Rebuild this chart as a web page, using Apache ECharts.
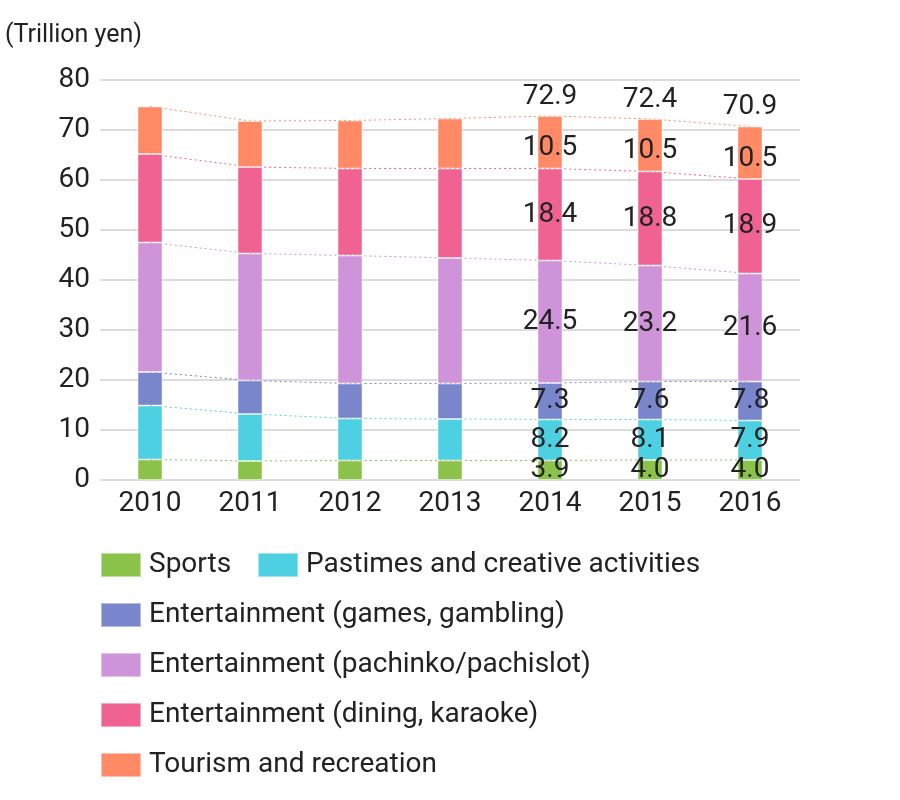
<!DOCTYPE html>
<html>
<head>
<meta charset="utf-8">
<script src="https://cdn.jsdelivr.net/npm/echarts@6/dist/echarts.min.js"></script>
<style>html,body{margin:0;padding:0;background:#fff}#c{width:900px;height:800px}</style>
</head>
<body>
<div id="c"></div>
<script>
const years = ['2010','2011','2012','2013','2014','2015','2016'];
const sports      = [4.1, 3.8, 3.9, 3.9, 3.9, 4.0, 4.0];
const pastimes    = [10.8, 9.4, 8.4, 8.3, 8.2, 8.1, 7.9];
const games       = [6.7, 6.7, 7.0, 7.1, 7.3, 7.6, 7.8];
const pachinko    = [25.9, 25.4, 25.6, 25.1, 24.5, 23.2, 21.6];
const dining      = [17.7, 17.3, 17.4, 17.9, 18.4, 18.8, 18.9];
const tourism     = [9.5, 9.2, 9.6, 10.0, 10.5, 10.5, 10.5];
const totals      = [null, null, null, null, 72.9, 72.4, 70.9];
const labeledYears = ['2014','2015','2016'];
const yTicks = [0,10,20,30,40,50,60,70,80];

const names = ['Sports','Pastimes and creative activities','Entertainment (games, gambling)',
  'Entertainment (pachinko/pachislot)','Entertainment (dining, karaoke)','Tourism and recreation'];
const values = [sports, pastimes, games, pachinko, dining, tourism];
const colors = ['#8BC34A','#4DD0E1','#7986CB','#CE93D8','#F06292','#FF8A65'];

const FONT = 'Roboto';
const TXT = '#222';
const FS = 28;

const series = [];
values.forEach((v, i) => {
  series.push({
    name: names[i], type: 'bar', stack: 'total', data: v, barWidth: 25, z: 3,
    itemStyle: { color: colors[i], borderColor: 'rgba(255,255,255,0.45)', borderWidth: 1 },
    label: {
      show: true, position: 'inside', color: TXT, fontFamily: FONT, fontSize: FS,
      textBorderWidth: 0, offset: i === 5 ? [0, 6] : [0, 0],
      formatter: p => labeledYears.includes(p.name) ? p.value.toFixed(1) : ''
    }
  });
});
values.forEach((v, i) => {
  series.push({
    name: names[i] + ' line', type: 'line', stack: 'lines', data: v, z: 1, silent: true,
    symbol: 'none', lineStyle: { color: colors[i], width: 1, type: [2, 3] }
  });
});
series.push({
  name: 'total', type: 'scatter', data: totals, symbolSize: 1, z: 4, silent: true,
  itemStyle: { color: 'rgba(0,0,0,0)', opacity: 1 },
  label: { show: true, position: 'top', distance: 4, color: TXT, fontFamily: FONT, fontSize: FS,
    formatter: p => p.value == null ? '' : Number(p.value).toFixed(1) }
});

const legendRows = [[names[0], names[1]], [names[2]], [names[3]], [names[4]], [names[5]]];
const legends = legendRows.map((row, r) => ({
  data: row, left: 95, top: 546 + r * 50, itemWidth: 40, itemHeight: 24, itemGap: 26,
  icon: 'rect', selectedMode: false,
  textStyle: { fontFamily: FONT, fontSize: FS, color: TXT, padding: [0, 0, 0, 3] }
}));

const chart = echarts.init(document.getElementById('c'), null, { renderer: 'canvas' });
chart.setOption({
  animation: false,
  color: colors,
  title: { text: '(Trillion yen)', left: 0, top: 18,
    textStyle: { fontFamily: FONT, fontSize: 25, fontWeight: 'normal', color: TXT } },
  legend: legends,
  grid: { left: 100, right: 100, top: 80, bottom: 320, containLabel: false },
  xAxis: {
    type: 'category', data: years,
    axisLine: { show: false }, axisTick: { show: false },
    axisLabel: { fontFamily: FONT, fontSize: FS, color: TXT, margin: 10 }
  },
  yAxis: {
    type: 'value', min: yTicks[0], max: yTicks[yTicks.length - 1], interval: 10,
    axisLine: { show: false }, axisTick: { show: false },
    axisLabel: { fontFamily: FONT, fontSize: FS, color: TXT, margin: 10 },
    splitLine: { lineStyle: { color: '#dcdcdc', width: 2 } }
  },
  series: series
});
</script>
</body>
</html>
